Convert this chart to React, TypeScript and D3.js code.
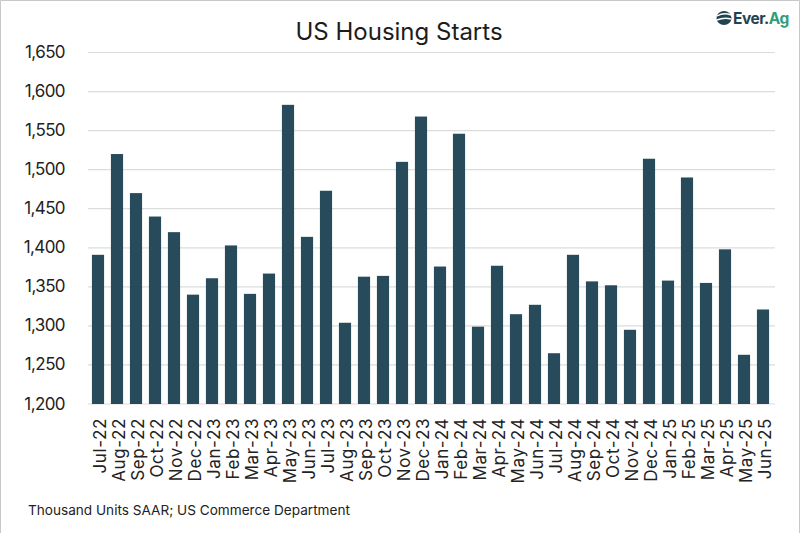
import React from "react";
import * as d3 from "d3";

const months = ["Jul-22","Aug-22","Sep-22","Oct-22","Nov-22","Dec-22","Jan-23","Feb-23","Mar-23","Apr-23","May-23","Jun-23","Jul-23","Aug-23","Sep-23","Oct-23","Nov-23","Dec-23","Jan-24","Feb-24","Mar-24","Apr-24","May-24","Jun-24","Jul-24","Aug-24","Sep-24","Oct-24","Nov-24","Dec-24","Jan-25","Feb-25","Mar-25","Apr-25","May-25","Jun-25"];
const starts = [1391,1520,1470,1440,1420,1340,1361,1403,1341,1367,1583,1414,1473,1304,1363,1364,1510,1568,1376,1546,1299,1377,1315,1327,1265,1391,1357,1352,1295,1514,1358,1490,1355,1398,1263,1321];
const yTicks = [1200,1250,1300,1350,1400,1450,1500,1550,1600,1650];

const font = "Inter, 'Noto Sans', sans-serif";
const W = 800, H = 533;

export default function App() {
  const x = d3.scaleBand<string>().domain(months).range([88.5, 772.5]).paddingInner(0.36).paddingOuter(0.18);
  const y = d3.scaleLinear().domain([1200, 1650]).range([404, 52.5]);
  const fmt = d3.format(",");
  return (
    <svg width={W} height={H} viewBox={`0 0 ${W} ${H}`} style={{ position: "fixed", left: 0, top: 0, background: "#fff" }}>
      <path d={`M0.5 ${H} V0.5 H${W - 0.5} V${H}`} fill="none" stroke="#c8c8c8" strokeWidth={1} />
      <text x={399} y={40} textAnchor="middle" fontFamily={font} fontSize={24} fill="#1c1c1c">US Housing Starts</text>
      {yTicks.map(t => (
        <g key={t}>
          <line x1={88} x2={775} y1={y(t)} y2={y(t)} stroke="#dcdcdc" strokeWidth={1.2} />
          <text x={65} y={y(t) + 5.5} textAnchor="end" fontFamily={font} fontSize={17} letterSpacing={-0.6} fill="#222">{fmt(t)}</text>
        </g>
      ))}
      {months.map((m, i) => (
        <rect key={m} x={x(m)} y={y(starts[i])} width={x.bandwidth()} height={y(1200) - y(starts[i])} fill="#284b5c" />
      ))}
      {months.map(m => (
        <text key={m} transform={`translate(${x(m)! + x.bandwidth() / 2 + 7.5},418) rotate(-90)`} textAnchor="end" fontFamily={font} fontSize={17} letterSpacing={0.6} fill="#222">{m}</text>
      ))}
      <text x={28} y={515} fontFamily={font} fontSize={13.6} fill="#222">Thousand Units SAAR; US Commerce Department</text>
      <g>
        <ellipse cx={724} cy={18} rx={7.5} ry={7} fill="#1f4450" />
        <path d="M717 16 Q724 12 731 15 M717 20 Q724 17 731 19" stroke="#fff" strokeWidth={1.4} fill="none" />
        <text x={733} y={23.5} fontFamily={font} fontSize={15.5} fontWeight={700} letterSpacing={-0.5}>
          <tspan fill="#1f4450">Ever.</tspan><tspan fill="#2f9d7d">Ag</tspan>
        </text>
      </g>
    </svg>
  );
}
